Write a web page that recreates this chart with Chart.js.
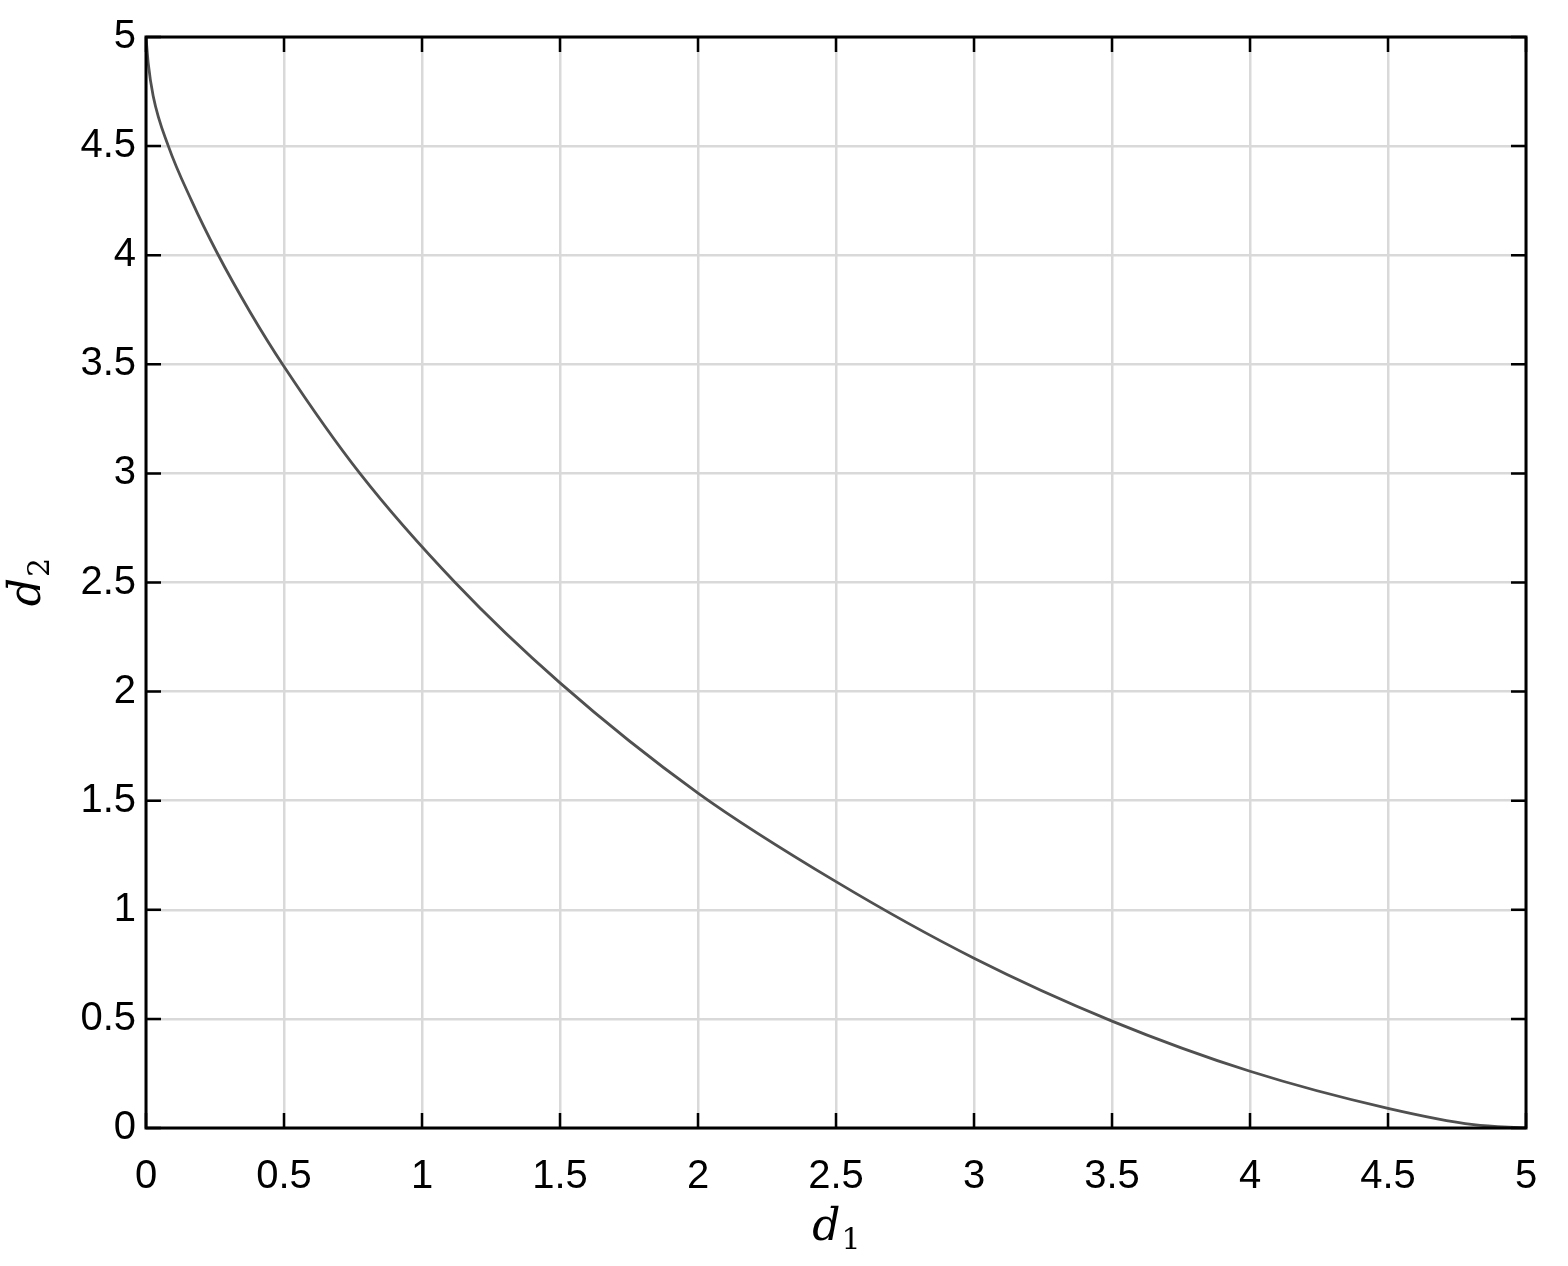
<!DOCTYPE html>
<html>
<head>
<meta charset="utf-8">
<script src="https://cdn.jsdelivr.net/npm/chart.js@4.4.1/dist/chart.umd.min.js"></script>
<style>
  html, body { margin: 0; padding: 0; background: #fff; }
  #wrap { width: 1568px; height: 1266px; }
</style>
</head>
<body>
<div id="wrap"><canvas id="curve" width="1568" height="1266"></canvas></div>
<script>
// values (d1, d2 pairs)
const d1Values = [0, 0.008, 0.026, 0.081, 0.165, 0.258, 0.377, 0.5, 0.775, 1.12, 1.5, 2, 2.5, 3, 3.5, 4, 4.5, 4.81, 5];
const d2Values = [5, 4.88, 4.73, 4.5, 4.25, 4.01, 3.74, 3.49, 3.0, 2.5, 2.04, 1.535, 1.129, 0.778, 0.49, 0.26, 0.09, 0.015, 0];
const tickValues = [0, 0.5, 1, 1.5, 2, 2.5, 3, 3.5, 4, 4.5, 5];

const tickFont = { family: "'Liberation Sans', Arial, sans-serif", size: 40 };

// box round the plot with inward ticks on all four sides
const boxPlugin = {
    id: 'boxTicks',
    afterDraw(chart) {
        const ctx = chart.ctx;
        const a = chart.chartArea;
        const xs = chart.scales.x, ys = chart.scales.y;
        const len = 15;
        ctx.save();
        ctx.strokeStyle = '#000';
        ctx.lineWidth = 2.5;
        ctx.beginPath();
        tickValues.forEach(v => {
            const px = xs.getPixelForValue(v);
            ctx.moveTo(px, a.bottom); ctx.lineTo(px, a.bottom - len);
            ctx.moveTo(px, a.top); ctx.lineTo(px, a.top + len);
            const py = ys.getPixelForValue(v);
            ctx.moveTo(a.left, py); ctx.lineTo(a.left + len, py);
            ctx.moveTo(a.right, py); ctx.lineTo(a.right - len, py);
        });
        ctx.stroke();
        ctx.lineWidth = 3;
        ctx.strokeRect(a.left, a.top, a.right - a.left, a.bottom - a.top);
        ctx.restore();
    }
};

// axis titles d_1 and d_2 with a subscript
function drawSubLabel(ctx, base, sub) {
    ctx.font = "italic 44px 'DejaVu Serif', 'Liberation Serif', serif";
    const w1 = ctx.measureText(base).width;
    ctx.font = "30px 'DejaVu Serif', 'Liberation Serif', serif";
    const w2 = ctx.measureText(sub).width;
    const start = -(w1 + w2) / 2;
    ctx.textBaseline = 'alphabetic';
    ctx.textAlign = 'left';
    ctx.font = "italic 44px 'DejaVu Serif', 'Liberation Serif', serif";
    ctx.fillText(base, start, 0);
    ctx.font = "30px 'DejaVu Serif', 'Liberation Serif', serif";
    ctx.fillText(sub, start + w1 + 1, 9);
}

const titlePlugin = {
    id: 'axisTitles',
    afterDraw(chart) {
        const ctx = chart.ctx;
        const a = chart.chartArea;
        ctx.save();
        ctx.fillStyle = '#000';
        ctx.translate((a.left + a.right) / 2, 1240);
        drawSubLabel(ctx, 'd', '1');
        ctx.restore();
        ctx.save();
        ctx.fillStyle = '#000';
        ctx.translate(40, (a.top + a.bottom) / 2);
        ctx.rotate(-Math.PI / 2);
        drawSubLabel(ctx, 'd', '2');
        ctx.restore();
    }
};

const points = d1Values.map((x, i) => ({ x: x, y: d2Values[i] }));

new Chart(document.getElementById('curve').getContext('2d'), {
    type: 'scatter',
    data: {
        datasets: [{
            data: points,
            showLine: true,
            borderColor: '#505050',
            borderWidth: 2.8,
            pointRadius: 0,
            fill: false,
            cubicInterpolationMode: 'monotone'
        }]
    },
    options: {
        responsive: false,
        animation: false,
        layout: { padding: { left: 0, right: 42, top: 37, bottom: 0 } },
        plugins: {
            legend: { display: false },
            tooltip: { enabled: false }
        },
        scales: {
            x: {
                type: 'linear',
                min: 0,
                max: 5,
                afterFit: scale => {
                    scale.height = 138;
                    scale.paddingLeft = 0;
                    scale.paddingRight = 0;
                },
                afterBuildTicks: scale => { scale.ticks = tickValues.map(v => ({ value: v })); },
                grid: { color: '#d9d9d9', lineWidth: 2.5, drawTicks: false },
                border: { display: false },
                ticks: { color: '#000', font: tickFont, padding: 25, maxRotation: 0, callback: v => String(v) }
            },
            y: {
                type: 'linear',
                min: 0,
                max: 5,
                afterFit: scale => {
                    scale.width = 146;
                    scale.paddingTop = 0;
                    scale.paddingBottom = 0;
                },
                afterBuildTicks: scale => { scale.ticks = tickValues.map(v => ({ value: v })); },
                grid: { color: '#d9d9d9', lineWidth: 2.5, drawTicks: false },
                border: { display: false },
                ticks: { color: '#000', font: tickFont, padding: 10, callback: v => String(v) }
            }
        }
    },
    plugins: [boxPlugin, titlePlugin]
});
</script>
</body>
</html>
